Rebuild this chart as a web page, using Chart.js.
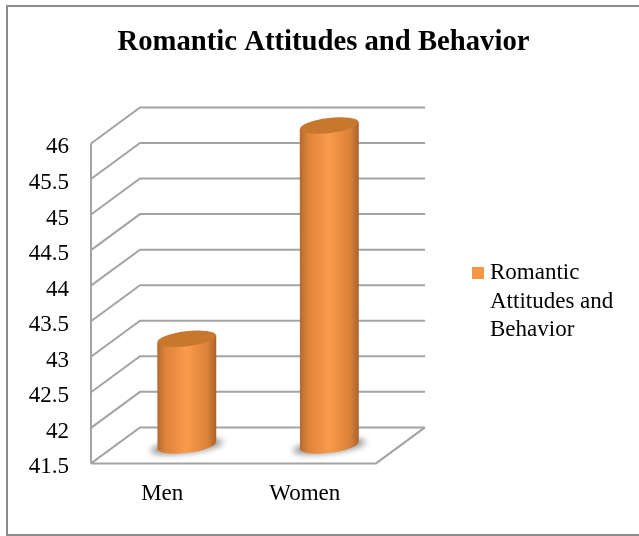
<!DOCTYPE html>
<html>
<head>
<meta charset="utf-8">
<title>Romantic Attitudes and Behavior</title>
<style>
    html, body { margin: 0; padding: 0; background: #fff; overflow: hidden; }
    #marco { position: absolute; left: 6px; top: 5px; right: 0; height: 527px; border: 2px solid #8c8c8c; border-right: none; }
    canvas { position: absolute; left: 0; top: 0; }
    #leyenda { position: absolute; left: 472px; top: 258px; font: 23px/28.5px 'Liberation Serif', serif; color: #000; padding-left: 18px; }
    #leyenda i { position: absolute; left: 0; top: 9px; width: 12px; height: 12px; background: #f79646; }
</style>
<script src="https://cdn.jsdelivr.net/npm/chart.js@4/dist/chart.umd.min.js"></script>
</head>
<body>
<div id="marco"></div>
<canvas id="grafico" width="639" height="536"></canvas>
<div id="leyenda"></div>
<script>
const categorias = ['Men', 'Women'];
const valores = [43, 46];
const serie = ['Romantic', 'Attitudes and', 'Behavior'];
const titulo = 'Romantic Attitudes and Behavior';

// profundidad de la caja 3D
const fondoX = 49;
const fondoY = 36;
const colorLinea = '#a3a3a3';

// Paredes y lineas de la caja, sacadas de la escala Y
const cajaPlugin = {
    id: 'caja',
    beforeDatasetsDraw(chart) {
        const ctx = chart.ctx;
        const area = chart.chartArea;
        const escala = chart.scales.y;
        ctx.save();
        ctx.strokeStyle = colorLinea;
        ctx.lineWidth = 2;
        ctx.beginPath();
        ctx.moveTo(area.left, area.top);
        ctx.lineTo(area.left, area.bottom);
        escala.ticks.forEach((t) => {
            const y = escala.getPixelForValue(t.value);
            ctx.moveTo(area.left, y);
            ctx.lineTo(area.left + fondoX, y - fondoY);
            ctx.lineTo(area.right + fondoX, y - fondoY);
        });
        ctx.moveTo(area.left, area.bottom);
        ctx.lineTo(area.right, area.bottom);
        ctx.lineTo(area.right + fondoX, area.bottom - fondoY);
        ctx.stroke();
        ctx.restore();
    }
};

// Cilindros: usa la posicion de cada barra y la corre a la mitad del fondo
const cilindroPlugin = {
    id: 'cilindro',
    afterDatasetsDraw(chart) {
        const ctx = chart.ctx;
        const giro = -7 * Math.PI / 180;
        chart.getDatasetMeta(0).data.forEach((barra) => {
            const cx = barra.x + fondoX / 2;
            const arriba = barra.y - fondoY / 2;
            const abajo = chart.chartArea.bottom - fondoY / 2;
            const rx = barra.width / 2;
            const ry = 7.5;
            const dy = Math.sin(-giro) * rx;

            ctx.save();
            // sombra de la base
            ctx.filter = 'blur(3px)';
            ctx.fillStyle = '#8f8f8f';
            ctx.beginPath();
            ctx.ellipse(cx, abajo + 1, rx + 7, ry - 1, giro, 0, Math.PI * 2);
            ctx.fill();
            ctx.filter = 'none';

            const grad = ctx.createLinearGradient(cx - rx, 0, cx + rx, 0);
            grad.addColorStop(0, '#b5692c');
            grad.addColorStop(0.14, '#dc843a');
            grad.addColorStop(0.5, '#fb9a4b');
            grad.addColorStop(0.86, '#d88138');
            grad.addColorStop(1, '#a9622b');
            ctx.fillStyle = grad;
            ctx.beginPath();
            ctx.moveTo(cx - rx, arriba + dy);
            ctx.lineTo(cx + rx, arriba - dy);
            ctx.lineTo(cx + rx, abajo - dy);
            ctx.ellipse(cx, abajo, rx, ry, giro, 0, Math.PI);
            ctx.closePath();
            ctx.fill();

            ctx.fillStyle = '#c8772f';
            ctx.beginPath();
            ctx.ellipse(cx, arriba, rx, ry, giro, 0, Math.PI * 2);
            ctx.fill();
            ctx.restore();
        });
    }
};

document.addEventListener('DOMContentLoaded', () => {
    // Leyenda en HTML, asi puede ir en tres lineas
    document.getElementById('leyenda').innerHTML = '<i></i>' + serie.join('<br>');

    const ctx = document.getElementById('grafico').getContext('2d');
    new Chart(ctx, {
        type: 'bar',
        data: {
            labels: categorias,
            datasets: [{
                label: serie.join(' '),
                data: valores,
                backgroundColor: 'rgba(0,0,0,0)',
                categoryPercentage: 1,
                barPercentage: 0.414
            }]
        },
        plugins: [cajaPlugin, cilindroPlugin],
        options: {
            responsive: false,
            animation: false,
            layout: { padding: { top: 25, left: 8, right: 0, bottom: 11 } },
            scales: {
                x: {
                    grid: { display: false, drawTicks: false },
                    border: { display: false },
                    ticks: { color: '#000', padding: 17, font: { family: 'Liberation Serif', size: 23 } }
                },
                y: {
                    min: 41.5,
                    max: 46,
                    grid: { display: false, drawTicks: false },
                    border: { display: false },
                    afterFit: (escala) => { escala.width = 83; },
                    ticks: {
                        stepSize: 0.5,
                        color: '#000',
                        padding: 22,
                        labelOffset: 4,
                        font: { family: 'Liberation Serif', size: 23 },
                        callback: (v) => String(v)
                    }
                },
                // eje vacio a la derecha: deja el hueco de la leyenda
                hueco: {
                    position: 'right',
                    grid: { display: false, drawTicks: false },
                    border: { display: false },
                    ticks: { display: false },
                    afterFit: (escala) => { escala.width = 263; }
                }
            },
            plugins: {
                title: {
                    display: true,
                    text: titulo,
                    color: '#000',
                    font: { family: 'Liberation Serif', size: 28.7, weight: 'bold' },
                    padding: { top: 0, bottom: 84 }
                },
                legend: { display: false },
                tooltip: { enabled: false }
            }
        }
    });
});
</script>
</body>
</html>
